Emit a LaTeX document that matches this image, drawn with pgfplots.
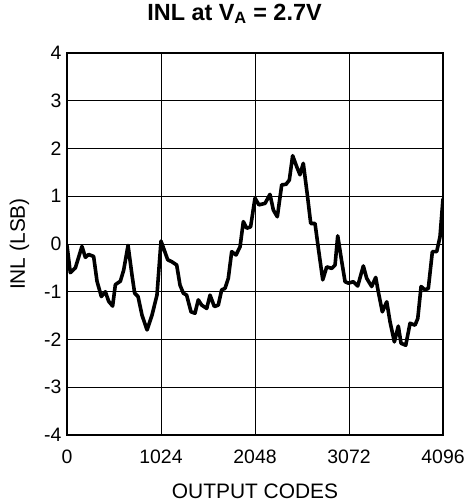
\documentclass[border=0pt]{standalone}
\usepackage{pgfplots}
\pgfplotsset{compat=1.18}
\usepackage{fontspec}
\setmainfont{Liberation Sans}
\begin{document}
\begin{tikzpicture}
\begin{axis}[
  name=ax,
  width=376bp, height=382bp, scale only axis,
  xmin=0, xmax=4096, ymin=-4, ymax=4,
  xtick={0,1024,2048,3072,4096}, ytick={-4,-3,...,4},
  grid=major, major grid style={black, line width=0.9pt},
  axis line style={line width=1.4pt},
  tick style={draw=none},
  ticklabel style={font=\fontsize{19.5}{22}\selectfont},
  xticklabel style={anchor=base, yshift=-28bp},
  yticklabel style={anchor=east, xshift=-2bp},
  /pgf/number format/assume math mode=true,
  /pgf/number format/1000 sep={},
  xlabel={OUTPUT CODES}, ylabel={INL (LSB)},
  label style={font=\fontsize{21}{24}\selectfont},
  xlabel style={at={(axis description cs:0.5,0)}, anchor=base, yshift=-63bp},
  ylabel style={at={([xshift=-42bp]axis description cs:0,0.5)}, anchor=base, rotate=0},
  title={INL at V\textsubscript{A} = 2.7V},
  title style={font=\fontsize{23.5}{26}\selectfont\bfseries,
    at={(axis description cs:0.5,1)}, anchor=base, yshift=27bp, xshift=-20.5bp},
]
\addplot[black, line width=3.6bp, line join=round] table {
x y
0 -0.03
36 -0.6
91 -0.5
163 -0.05
200 -0.28
236 -0.22
290 -0.26
327 -0.78
374 -1.1
418 -1.0
454 -1.2
497 -1.3
527 -0.85
581 -0.78
617 -0.55
665 -0.03
708 -0.65
737 -1.03
774 -1.1
817 -1.49
872 -1.8
926 -1.49
980 -1.07
1024 0.06
1060 -0.13
1097 -0.33
1140 -0.37
1195 -0.44
1231 -0.86
1267 -1.03
1303 -1.07
1351 -1.42
1394 -1.45
1430 -1.17
1467 -1.28
1522 -1.35
1558 -1.07
1605 -1.31
1648 -1.28
1685 -0.96
1721 -0.93
1757 -0.72
1794 -0.16
1841 -0.23
1885 -0.06
1921 0.47
1958 0.33
2000 0.36
2048 0.96
2090 0.82
2157 0.85
2211 1.04
2248 0.71
2291 0.57
2339 1.24
2386 1.25
2422 1.34
2458 1.85
2502 1.62
2538 1.45
2574 1.69
2618 1.03
2655 0.43
2702 0.43
2738 -0.09
2786 -0.75
2829 -0.48
2884 -0.51
2920 -0.44
2949 0.17
2993 -0.37
3029 -0.79
3065 -0.82
3119 -0.79
3167 -0.88
3228 -0.46
3265 -0.72
3319 -0.89
3363 -0.70
3391 -1.0
3435 -1.42
3483 -1.21
3519 -1.63
3566 -2.05
3609 -1.72
3639 -2.08
3690 -2.12
3737 -1.66
3791 -1.70
3821 -1.56
3857 -0.89
3900 -0.96
3936 -0.93
3980 -0.16
4027 -0.16
4063 0.15
4096 0.95
};
\end{axis}
\pgfresetboundingbox
\path[use as bounding box] ([shift={(-67bp,-67bp)}]ax.south west) rectangle ([shift={(25bp,53bp)}]ax.north east);
\end{tikzpicture}
\end{document}
